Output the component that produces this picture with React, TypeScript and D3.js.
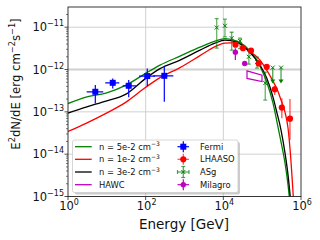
import React from 'react';
import * as d3 from 'd3';

// model curves (E in GeV, E^2 dN/dE in erg cm^-2 s^-1)
const modelE = [1, 2.91, 9.52, 31.2, 102, 234, 766, 2510, 6110, 1.1e4, 2.25e4, 4.86e4, 8.81e4, 1.31e5, 1.9e5, 2.41e5, 3.06e5, 3.87e5, 4.63e5, 5.37e5, 6.34e5];
const modelN5 = [1.57e-13, 2.23e-13, 2.77e-13, 4.28e-13, 8.22e-13, 1.27e-12, 2.07e-12, 3.37e-12, 4.68e-12, 5.36e-12, 4.68e-12, 2.72e-12, 1.2e-12, 5.05e-13, 1.61e-13, 5.74e-14, 1.94e-14, 6.2e-15, 1.88e-15, 4.8e-16, 5.5e-17];
const modelN1 = [3.43e-14, 5.36e-14, 9.22e-14, 1.7e-13, 3.85e-13, 6.44e-13, 1.11e-12, 2.13e-12, 3.47e-12, 4.2e-12, 4.31e-12, 2.64e-12, 1.67e-12, 9.68e-13, 5.32e-13, 3.45e-13, 1.9e-13, 9.89e-14, 4.15e-14, 9.57e-15, 9.8e-16];
const modelN3 = [9.37e-14, 1.3e-13, 1.8e-13, 2.63e-13, 6.27e-13, 1.05e-12, 1.67e-12, 2.87e-12, 4.2e-12, 4.93e-12, 4.43e-12, 2.51e-12, 1.27e-12, 6.27e-13, 2.23e-13, 9.37e-14, 3.72e-14, 1.07e-14, 3.23e-15, 8.3e-16, 9.5e-17];

// Fermi
const fermiE = [5.05, 14.2, 36.6, 110, 302];
const fermiELo = [3.03, 9.1, 25.6, 67.4, 157];
const fermiEHi = [8.1, 20.9, 56.4, 174, 515];
const fermiF = [2.98e-13, 4.85e-13, 4.13e-13, 7.0e-13, 7.1e-13];
const fermiFLo = [1.58e-13, 3.58e-13, 2.2e-13, 4.1e-13, 1.73e-13];
const fermiFHi = [4.28e-13, 6.17e-13, 5.62e-13, 1.05e-12, 1.2e-12];

// LHAASO
const lhaasoE = [2.06e4, 3.21e4, 5.16e4, 8.15e4, 1.31e5, 2.1e5, 3.21e5, 5.2e5];
const lhaasoF = [3.87e-12, 3.2e-12, 2.79e-12, 1.39e-12, 1.16e-12, 3.4e-13, 1.26e-13, 6.9e-14];
const lhaasoFLo = [3.4e-12, 2.85e-12, 2.45e-12, 1.2e-12, 1.0e-12, 2.49e-13, 7.1e-14, 2.16e-14];
const lhaasoFHi = [4.4e-12, 3.6e-12, 3.15e-12, 1.6e-12, 1.32e-12, 4.07e-13, 2.1e-13, 2.0e-13];

// ASgamma
const asgE = [6.75e3, 1.1e4, 1.64e4, 2.69e4, 4.53e4, 7.37e4, 1.2e5];
const asgF = [9.8e-12, 1.08e-11, 5.5e-12, 4.75e-12, 2.0e-12, 1.5e-12, 4.77e-13];
const asgFLo = [3.2e-12, 5.9e-12, 2.87e-12, 3.11e-12, 1.34e-12, 1.08e-12, 1.9e-13];
const asgFHi = [1.6e-11, 1.55e-11, 7.6e-12, 5.5e-12, 2.72e-12, 1.96e-12, 8.7e-13];
const asgUlE = [1.87e5, 3.06e5];
const asgUlF = [1.11e-12, 1.11e-12];

// Milagro
const milagroE = [2.04e4, 3.55e4];
const milagroF = [2.57e-12, 1.39e-12];
const milagroFLo = [1.69e-12, 1.3e-12];
const milagroFHi = [3.2e-12, 1.48e-12];

// HAWC butterfly
const hawcE = [4.07e4, 9.9e4, 9.9e4, 4.07e4];
const hawcF = [9.3e-13, 7.38e-13, 5.19e-13, 6.16e-13];

const xTicks = [1, 1e2, 1e4, 1e6];
const xTickExp = ['0', '2', '4', '6'];
const yTicks = [1e-15, 1e-14, 1e-13, 1e-12, 1e-11];
const yTickExp = ['\u221215', '\u221214', '\u221213', '\u221212', '\u221211'];

const left = 68, right = 301, top = 7, bottom = 196.5;
const font = 'DejaVu Sans';

export default function App() {
  const x = d3.scaleLog().domain([1, 1e6]).range([left, right]);
  const y = d3.scaleLog().domain([1e-15, 3e-11]).range([bottom, top]);

  const line = d3.line<number>()
    .x((d, i) => x(modelE[i]))
    .y(d => y(d))
    .curve(d3.curveMonotoneX);

  const minor: number[] = [];
  for (let k = -15; k <= -11; k++) {
    for (let m = 2; m <= 9; m++) {
      const v = m * Math.pow(10, k);
      if (v < 3e-11) minor.push(v);
    }
  }

  const hawcPath = d3.line<number>().x((d, i) => x(hawcE[i])).y(d => y(d))(hawcF) + 'Z';

  const cross = (cx: number, cy: number, s: number, color: string) => (
    <g stroke={color} strokeWidth={1}>
      <line x1={cx - s} y1={cy - s} x2={cx + s} y2={cy + s} />
      <line x1={cx - s} y1={cy + s} x2={cx + s} y2={cy - s} />
    </g>
  );

  const legendLeft = [
    { c: 'green', t: '5e-2' },
    { c: 'red', t: '1e-2' },
    { c: 'black', t: '3e-2' },
  ];
  const rowY = [146.7, 159.3, 172, 184.7];

  return (
    <svg width={320} height={240} style={{ position: 'absolute', left: 0, top: 0, background: 'white' }} fontFamily={font}>
      <defs>
        <clipPath id="plot">
          <rect x={left} y={top} width={right - left} height={bottom - top} />
        </clipPath>
      </defs>

      {/* grid */}
      <g stroke="#d0d0d0">
        {[1e2, 1e4].map(v => <line key={v} x1={x(v)} x2={x(v)} y1={top} y2={bottom} strokeWidth={1} />)}
        {[1e-14, 1e-13, 1e-12, 1e-11].map(v => (
          <line key={v} x1={left} x2={right} y1={y(v)} y2={y(v)} strokeWidth={v === 1e-12 ? 2 : 1} />
        ))}
      </g>

      <g clipPath="url(#plot)">
        {/* models */}
        <path d={line(modelN5) || ''} fill="none" stroke="green" strokeWidth={1.3} />
        <path d={line(modelN1) || ''} fill="none" stroke="red" strokeWidth={1.3} />
        <path d={line(modelN3) || ''} fill="none" stroke="black" strokeWidth={1.3} />

        {/* HAWC */}
        <path d={hawcPath} fill="none" stroke="#bf00bf" strokeWidth={1.2} />

        {/* Fermi */}
        {fermiE.map((e, i) => (
          <g key={'f' + i} stroke="blue" strokeWidth={1.2}>
            <line x1={x(fermiELo[i])} x2={x(fermiEHi[i])} y1={y(fermiF[i])} y2={y(fermiF[i])} />
            <line x1={x(e)} x2={x(e)} y1={y(fermiFLo[i])} y2={y(fermiFHi[i])} />
            <rect x={x(e) - 3} y={y(fermiF[i]) - 3} width={6} height={6} fill="blue" stroke="none" />
          </g>
        ))}

        {/* ASg */}
        {asgE.map((e, i) => (
          <g key={'a' + i}>
            <g stroke="green" strokeOpacity={0.6} strokeWidth={1.3}>
              <line x1={x(e)} x2={x(e)} y1={y(asgFLo[i])} y2={y(asgFHi[i])} />
              <line x1={x(e) - 2} x2={x(e) + 2} y1={y(asgFLo[i])} y2={y(asgFLo[i])} />
              <line x1={x(e) - 2} x2={x(e) + 2} y1={y(asgFHi[i])} y2={y(asgFHi[i])} />
            </g>
            {cross(x(e), y(asgF[i]), 2, 'green')}
          </g>
        ))}
        {asgUlE.map((e, i) => {
          const cx = x(e), cy = y(asgUlF[i]);
          return (
            <g key={'u' + i}>
              <line x1={cx} x2={cx} y1={cy} y2={cy + 13} stroke="green" strokeOpacity={0.7} strokeWidth={1.3} />
              <path d={`M${cx - 2.5},${cy + 12}L${cx + 2.5},${cy + 12}L${cx},${cy + 16}Z`} fill="green" />
              {cross(cx, cy, 2, 'green')}
            </g>
          );
        })}

        {/* Milagro */}
        {milagroE.map((e, i) => (
          <g key={'m' + i}>
            <line x1={x(e)} x2={x(e)} y1={y(milagroFLo[i])} y2={y(milagroFHi[i])} stroke="#bf00bf" strokeWidth={1.2} />
            <circle cx={x(e)} cy={y(milagroF[i])} r={2.7} fill="#bf00bf" />
          </g>
        ))}

        {/* LHAASO */}
        {lhaasoE.map((e, i) => (
          <g key={'l' + i}>
            <line x1={x(e)} x2={x(e)} y1={y(lhaasoFLo[i])} y2={y(lhaasoFHi[i])} stroke="red" strokeOpacity={0.65} strokeWidth={1.4} />
            <circle cx={x(e)} cy={y(lhaasoF[i])} r={3.1} fill="red" />
          </g>
        ))}
      </g>

      {/* frame */}
      <rect x={left} y={top} width={right - left} height={bottom - top} fill="none" stroke="#222" strokeWidth={0.9} />

      {/* y ticks */}
      <g stroke="#222" strokeWidth={0.8}>
        {yTicks.map(v => <line key={v} x1={left - 3.5} x2={left} y1={y(v)} y2={y(v)} />)}
        {minor.map(v => <line key={v} x1={left - 2} x2={left} y1={y(v)} y2={y(v)} strokeWidth={0.6} />)}
        {xTicks.map(v => <line key={v} x1={x(v)} x2={x(v)} y1={bottom} y2={bottom + 3.5} />)}
      </g>
      {yTicks.map((v, i) => (
        <text key={v} x={64} y={y(v) + 4} fontSize={11.5} textAnchor="end" fill="#111">
          10<tspan dy={-5} fontSize={8}>{yTickExp[i]}</tspan>
        </text>
      ))}
      {xTicks.map((v, i) => (
        <text key={v} x={x(v) + 1} y={210} fontSize={11.5} textAnchor="middle" fill="#111">
          10<tspan dy={-5} fontSize={8}>{xTickExp[i]}</tspan>
        </text>
      ))}

      {/* axis labels */}
      <text x={184} y={228.5} fontSize={13.5} textAnchor="middle" fill="#111">Energy [GeV]</text>
      <text transform="translate(20,84) rotate(-90)" fontSize={11.7} textAnchor="middle" fill="#111">
        E<tspan dy={-5} fontSize={8.2}>2</tspan>
        <tspan dy={5}>dN/dE [erg cm</tspan>
        <tspan dy={-5} fontSize={8.2}>{'\u22122'}</tspan>
        <tspan dy={5}>s</tspan>
        <tspan dy={-5} fontSize={8.2}>{'\u22121'}</tspan>
        <tspan dy={5}>]</tspan>
      </text>

      {/* legend */}
      <rect x={74.5} y={142} width={165.5} height={52.5} fill="#999" opacity={0.5} rx={2} />
      <rect x={72.5} y={140} width={165.5} height={52.5} fill="white" stroke="#cccccc" strokeWidth={0.8} rx={2} />
      {legendLeft.map((d, i) => (
        <g key={d.t}>
          <line x1={75} x2={91.7} y1={rowY[i]} y2={rowY[i]} stroke={d.c} strokeWidth={1.3} />
          <text x={99} y={rowY[i] + 3} fontSize={8.4} fill="#111">
            n = {d.t} cm<tspan dy={-3.5} fontSize={6}>{'\u22123'}</tspan>
          </text>
        </g>
      ))}
      <line x1={75} x2={91.7} y1={rowY[3]} y2={rowY[3]} stroke="#bf00bf" strokeWidth={1.3} />
      <text x={99} y={rowY[3] + 3} fontSize={8.4} fill="#111">HAWC</text>

      <g stroke="blue" strokeWidth={1.2}>
        <line x1={177.5} x2={189} y1={rowY[0]} y2={rowY[0]} />
        <line x1={183.3} x2={183.3} y1={rowY[0] - 5.5} y2={rowY[0] + 5.5} />
      </g>
      <rect x={180.3} y={rowY[0] - 3} width={6} height={6} fill="blue" />
      <text x={200} y={rowY[0] + 3} fontSize={8.4} fill="#111">Fermi</text>

      <g stroke="red" strokeWidth={1.2} strokeOpacity={0.7}>
        <line x1={177.5} x2={189} y1={rowY[1]} y2={rowY[1]} />
        <line x1={183.3} x2={183.3} y1={rowY[1] - 5.5} y2={rowY[1] + 5.5} />
      </g>
      <circle cx={183.3} cy={rowY[1]} r={3.1} fill="red" />
      <text x={200} y={rowY[1] + 3} fontSize={8.4} fill="#111">LHAASO</text>

      <g stroke="green" strokeWidth={1.2} strokeOpacity={0.7}>
        <line x1={177.5} x2={189} y1={rowY[2]} y2={rowY[2]} />
        <line x1={177.5} x2={177.5} y1={rowY[2] - 2} y2={rowY[2] + 2} />
        <line x1={189} x2={189} y1={rowY[2] - 2} y2={rowY[2] + 2} />
        <line x1={183.3} x2={183.3} y1={rowY[2] - 5.5} y2={rowY[2] + 5.5} />
        <line x1={181.3} x2={185.3} y1={rowY[2] - 5.5} y2={rowY[2] - 5.5} />
        <line x1={181.3} x2={185.3} y1={rowY[2] + 5.5} y2={rowY[2] + 5.5} />
      </g>
      {cross(183.3, rowY[2], 2, 'green')}
      <text x={200} y={rowY[2] + 3} fontSize={8.4} fill="#111">ASg</text>

      <g stroke="#bf00bf" strokeWidth={1.2}>
        <line x1={177.5} x2={189} y1={rowY[3]} y2={rowY[3]} />
        <line x1={183.3} x2={183.3} y1={rowY[3] - 5.5} y2={rowY[3] + 5.5} />
      </g>
      <circle cx={183.3} cy={rowY[3]} r={2.7} fill="#bf00bf" />
      <text x={200} y={rowY[3] + 3} fontSize={8.4} fill="#111">Milagro</text>
    </svg>
  );
}
